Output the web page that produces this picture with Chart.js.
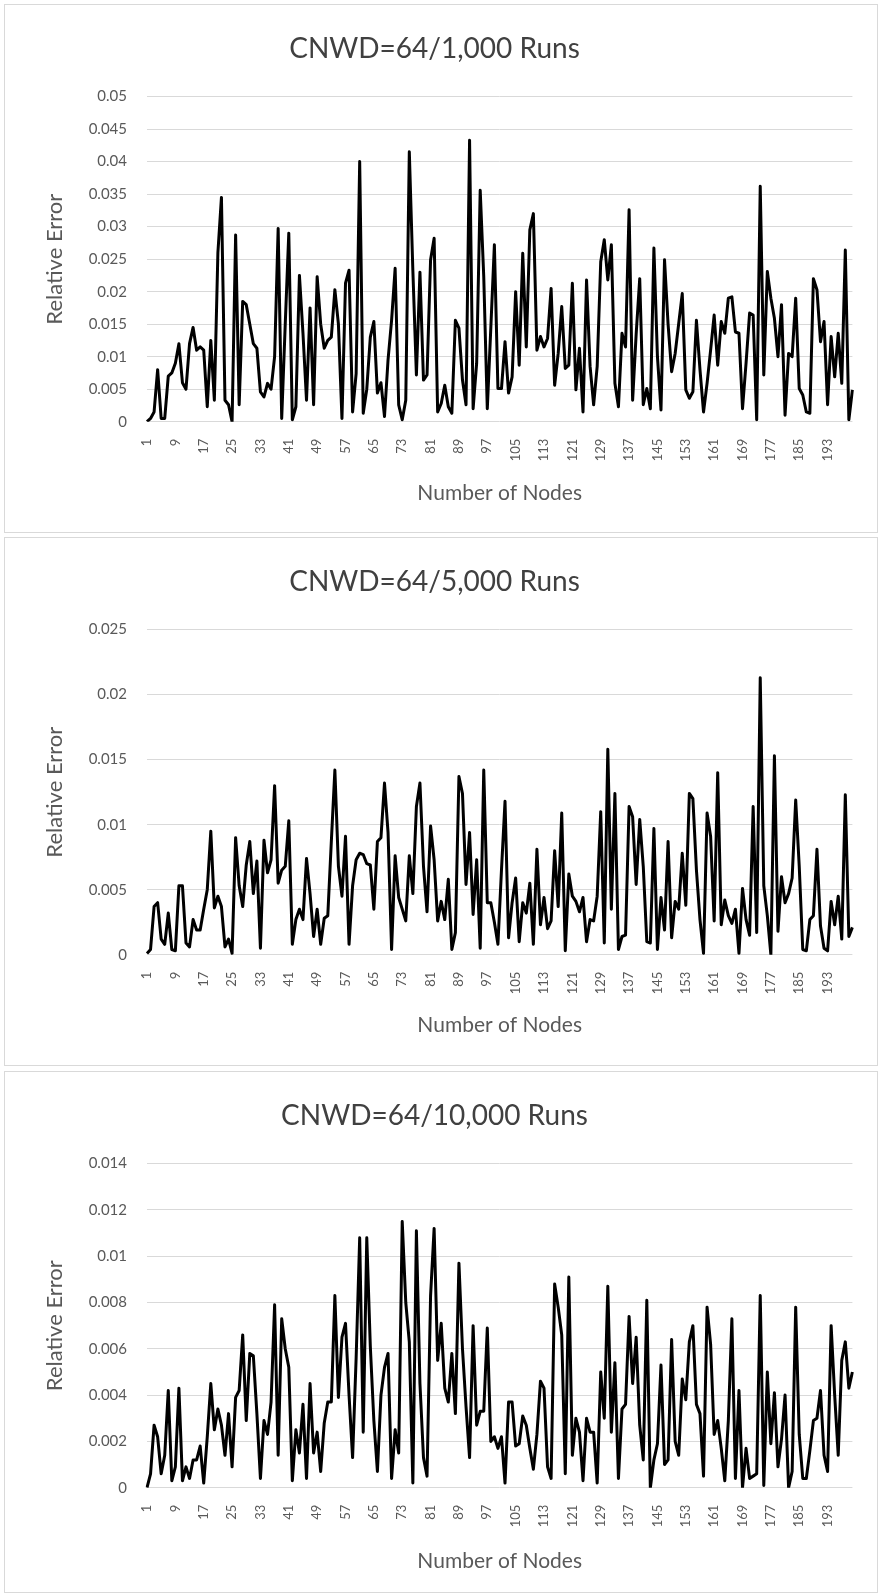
<!DOCTYPE html>
<html>
<head>
<meta charset="utf-8">
<script src="https://cdn.jsdelivr.net/npm/chart.js@4.4.1/dist/chart.umd.min.js"></script>
<style>
  body { margin: 0; background: #fff; width: 880px; height: 1595px; position: relative; overflow: hidden; }
  .panel { position: absolute; left: 4px; width: 874px; border: 1px solid #d9d9d9; box-sizing: border-box; background: #fff; }
  .panel canvas { display: block; }
</style>
</head>
<body>
<div class="panel" style="top:4px;height:529px"><canvas id="c1" width="872" height="527"></canvas></div>
<div class="panel" style="top:537px;height:529px"><canvas id="c2" width="872" height="527"></canvas></div>
<div class="panel" style="top:1071px;height:522px"><canvas id="c3" width="872" height="520"></canvas></div>
<script>
// node index 1..200 on the x axis
const nodes = Array.from({ length: 200 }, (_, i) => i + 1);

const err1000 = [
  0, 0.0005, 0.0015, 0.008, 0.0005, 0.0005, 0.007, 0.0075, 0.009, 0.012,
  0.006, 0.005, 0.012, 0.0145, 0.011, 0.0115, 0.011, 0.0023, 0.0125, 0.0033,
  0.026, 0.0345, 0.0033, 0.0026, 0, 0.0287, 0.0026, 0.0185, 0.018, 0.015,
  0.012, 0.0113, 0.0046, 0.0038, 0.0059, 0.005, 0.01, 0.0297, 0.0005, 0.015,
  0.029, 0.0003, 0.0023, 0.0225, 0.0136, 0.0033, 0.0175, 0.0026, 0.0223, 0.015,
  0.0113, 0.0125, 0.013, 0.0203, 0.015, 0.0005, 0.0213, 0.0233, 0.0015, 0.0074,
  0.04, 0.0013, 0.005, 0.013, 0.0154, 0.0044, 0.006, 0.0008, 0.0095, 0.0156,
  0.0236, 0.0026, 0.0003, 0.0033, 0.0415, 0.0233, 0.0072, 0.023, 0.0064, 0.0072,
  0.0249, 0.0282, 0.0015, 0.0028, 0.0056, 0.0023, 0.0013, 0.0156, 0.0144, 0.0064,
  0.0026, 0.0433, 0.002, 0.009, 0.0356, 0.0223, 0.002, 0.0145, 0.0272, 0.0051,
  0.0051, 0.0123, 0.0044, 0.0069, 0.02, 0.0087, 0.0259, 0.0115, 0.0295, 0.032,
  0.011, 0.0131, 0.0115, 0.0128, 0.0205, 0.0056, 0.0105, 0.0177, 0.0082, 0.0087,
  0.0213, 0.0049, 0.0113, 0.0015, 0.0218, 0.0085, 0.0026, 0.0085, 0.0246, 0.028,
  0.0218, 0.0272, 0.0059, 0.0023, 0.0136, 0.0115, 0.0326, 0.0033, 0.0135, 0.022,
  0.0026, 0.0051, 0.002, 0.0267, 0.01, 0.0018, 0.0249, 0.015, 0.0077, 0.0105,
  0.0151, 0.0197, 0.0049, 0.0036, 0.0046, 0.0156, 0.008, 0.0015, 0.0059, 0.011,
  0.0164, 0.0087, 0.0154, 0.0136, 0.019, 0.0192, 0.0138, 0.0136, 0.002, 0.009,
  0.0167, 0.0164, 0.0003, 0.0362, 0.0072, 0.0231, 0.019, 0.0159, 0.01, 0.018,
  0.001, 0.0105, 0.01, 0.019, 0.0051, 0.0041, 0.0015, 0.0013, 0.022, 0.0203,
  0.0123, 0.0154, 0.0026, 0.0131, 0.0069, 0.0136, 0.0059, 0.0264, 0.0003, 0.0049
];

const err5000 = [
  0.0001, 0.0004, 0.0037, 0.004, 0.0012, 0.0008, 0.0032, 0.0004, 0.0003, 0.0053,
  0.0053, 0.0009, 0.0006, 0.0027, 0.0019, 0.0019, 0.0035, 0.005, 0.0095, 0.0036,
  0.0045, 0.0037, 0.0006, 0.0012, 0.0001, 0.009, 0.0053, 0.0037, 0.0069, 0.0087,
  0.0047, 0.0072, 0.0005, 0.0088, 0.0063, 0.0073, 0.013, 0.0055, 0.0065, 0.0068,
  0.0103, 0.0008, 0.0027, 0.0035, 0.0027, 0.0074, 0.0047, 0.0014, 0.0035, 0.0008,
  0.0028, 0.003, 0.0087, 0.0142, 0.0068, 0.0045, 0.0091, 0.0008, 0.0053, 0.0073,
  0.0078, 0.0077, 0.007, 0.0069, 0.0035, 0.0087, 0.009, 0.0132, 0.0094, 0.0004,
  0.0076, 0.0044, 0.0035, 0.0026, 0.0076, 0.0047, 0.0114, 0.0132, 0.0068, 0.0033,
  0.0099, 0.0073, 0.0026, 0.0041, 0.0027, 0.0058, 0.0004, 0.0017, 0.0137, 0.0124,
  0.0054, 0.0094, 0.0031, 0.0073, 0.0005, 0.0142, 0.004, 0.004, 0.0025, 0.0008,
  0.0065, 0.0118, 0.0013, 0.004, 0.0059, 0.001, 0.004, 0.0032, 0.0055, 0.0008,
  0.0081, 0.0023, 0.0044, 0.002, 0.0026, 0.008, 0.0037, 0.0109, 0.0003, 0.0062,
  0.0045, 0.0041, 0.0033, 0.0044, 0.001, 0.0027, 0.0026, 0.0045, 0.011, 0.0009,
  0.0158, 0.0035, 0.0124, 0.0004, 0.0014, 0.0015, 0.0114, 0.0106, 0.0054, 0.0104,
  0.0068, 0.001, 0.0009, 0.0097, 0.0004, 0.0044, 0.0019, 0.0087, 0.0013, 0.0041,
  0.0035, 0.0078, 0.0038, 0.0124, 0.012, 0.0065, 0.0027, 0.0001, 0.0109, 0.0091,
  0.0026, 0.014, 0.0023, 0.0042, 0.003, 0.0024, 0.0035, 0.0001, 0.0051, 0.0027,
  0.0015, 0.0114, 0.0017, 0.0213, 0.0053, 0.003, 0, 0.0153, 0.0018, 0.006,
  0.004, 0.0047, 0.0059, 0.0119, 0.0068, 0.0004, 0.0003, 0.0027, 0.003, 0.0081,
  0.0022, 0.0005, 0.0003, 0.0041, 0.0023, 0.0045, 0.0012, 0.0123, 0.0014, 0.0021
];

const err10000 = [
  0, 0.0006, 0.0027, 0.0022, 0.0006, 0.0014, 0.0042, 0.0003, 0.0009, 0.0043,
  0.0003, 0.0009, 0.0004, 0.0012, 0.0012, 0.0018, 0.0002, 0.0022, 0.0045, 0.0025,
  0.0034, 0.0027, 0.0014, 0.0032, 0.0009, 0.0039, 0.0042, 0.0066, 0.0029, 0.0058,
  0.0057, 0.0032, 0.0004, 0.0029, 0.0023, 0.0037, 0.0079, 0.0014, 0.0073, 0.006,
  0.0052, 0.0003, 0.0025, 0.0015, 0.0036, 0.0004, 0.0045, 0.0015, 0.0024, 0.0007,
  0.0028, 0.0037, 0.0037, 0.0083, 0.0039, 0.0065, 0.0071, 0.004, 0.0013, 0.0056,
  0.0108, 0.0024, 0.0108, 0.0061, 0.0029, 0.0007, 0.004, 0.0052, 0.0058, 0.0004,
  0.0025, 0.0015, 0.0115, 0.008, 0.0063, 0.0002, 0.0111, 0.0045, 0.0013, 0.0005,
  0.0083, 0.0112, 0.0055, 0.0071, 0.0043, 0.0037, 0.0058, 0.0032, 0.0097, 0.006,
  0.0035, 0.0013, 0.007, 0.0027, 0.0033, 0.0033, 0.0069, 0.002, 0.0022, 0.0017,
  0.0022, 0.0002, 0.0037, 0.0037, 0.0018, 0.0019, 0.0031, 0.0027, 0.0017, 0.0008,
  0.0023, 0.0046, 0.0043, 0.0009, 0.0004, 0.0088, 0.0078, 0.0066, 0.0006, 0.0091,
  0.0014, 0.003, 0.0024, 0.0003, 0.003, 0.0024, 0.0024, 0.0002, 0.005, 0.003,
  0.0087, 0.0024, 0.0054, 0.0004, 0.0034, 0.0036, 0.0074, 0.0045, 0.0065, 0.0027,
  0.0012, 0.0081, 0, 0.0012, 0.0019, 0.0053, 0.001, 0.0012, 0.0064, 0.002,
  0.0014, 0.0047, 0.0038, 0.0063, 0.007, 0.0036, 0.0032, 0.0005, 0.0078, 0.0062,
  0.0023, 0.0029, 0.0017, 0.0003, 0.0029, 0.0073, 0.0004, 0.0042, 0, 0.0017,
  0.0004, 0.0005, 0.0006, 0.0083, 0.0001, 0.005, 0.0019, 0.0041, 0.0009, 0.0021,
  0.004, 0, 0.0007, 0.0078, 0.0023, 0.0004, 0.0004, 0.0016, 0.0029, 0.003,
  0.0042, 0.0014, 0.0007, 0.007, 0.004, 0.0014, 0.0055, 0.0063, 0.0043, 0.005
];

const titles = ['CNWD=64/1,000 Runs', 'CNWD=64/5,000 Runs', 'CNWD=64/10,000 Runs'];
const yMax = [0.05, 0.025, 0.014];
const yStep = [0.005, 0.005, 0.002];

const grey = '#595959';
Chart.defaults.font.family = 'Lato, "Open Sans", sans-serif';
Chart.defaults.color = grey;

function makeChart(id, title, values, max, step, xHeight, xTitlePad) {
  new Chart(document.getElementById(id), {
    type: 'line',
    data: {
      labels: nodes,
      datasets: [{
        data: values,
        borderColor: '#000',
        borderWidth: 3,
        borderJoinStyle: 'round',
        pointRadius: 0,
        tension: 0,
        fill: false
      }]
    },
    options: {
      responsive: false,
      animation: false,
      devicePixelRatio: 1,
      layout: { padding: { left: 0, right: 13, top: 0, bottom: 0 } },
      plugins: {
        legend: { display: false },
        tooltip: { enabled: false },
        title: {
          display: true, text: title, color: '#404040',
          font: { size: 28, weight: 'normal' },
          padding: { top: 27, bottom: 31 }
        }
      },
      scales: {
        x: {
          offset: false,
          grid: { display: false },
          border: { display: false },
          ticks: {
            autoSkip: false, minRotation: 90, maxRotation: 90, padding: 9,
            font: { size: 13 },
            callback: (v, i) => (i % 8 === 0 ? nodes[i] : '')
          },
          title: { display: true, text: 'Number of Nodes', font: { size: 21 }, padding: { bottom: xTitlePad } },
          afterFit: s => { s.height = xHeight; }
        },
        y: {
          min: 0, max: max,
          grid: { color: '#d9d9d9', lineWidth: 1, drawTicks: false },
          border: { display: false },
          ticks: {
            stepSize: step, padding: 20, font: { size: 15 },
            callback: v => String(+v.toFixed(4))
          },
          title: { display: true, text: 'Relative Error', font: { size: 22 }, padding: { top: 37 } },
          afterFit: s => { s.width = 142; }
        }
      }
    }
  });
}

makeChart('c1', titles[0], err1000, yMax[0], yStep[0], 110.3, 26.5);
makeChart('c2', titles[1], err5000, yMax[1], yStep[1], 110.3, 27);
makeChart('c3', titles[2], err10000, yMax[2], yStep[2], 104.3, 18);
</script>
</body>
</html>
